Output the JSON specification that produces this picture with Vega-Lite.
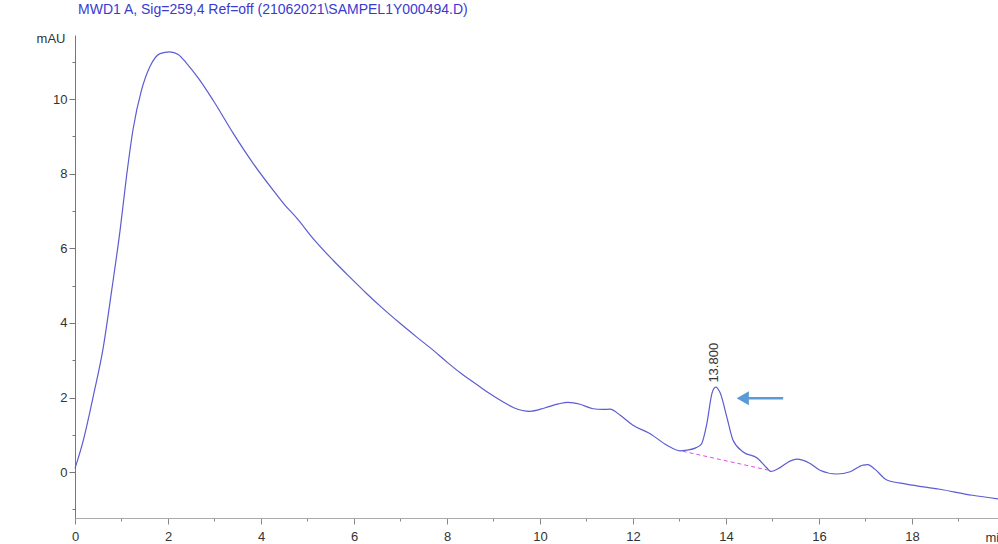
{
  "$schema": "https://vega.github.io/schema/vega-lite/v6.json",
  "width": 923,
  "height": 483,
  "autosize": {"type": "none"},
  "padding": {"left": 75, "top": 35, "right": 0, "bottom": 26},
  "background": "white",
  "title": {"text": "MWD1 A, Sig=259,4 Ref=off (21062021\\SAMPEL1Y000494.D)", "anchor": "start", "frame": "group", "fontSize": 14, "fontWeight": "normal", "color": "#3a3ad0", "font": "Liberation Sans", "dx": 3, "offset": 4, "baseline": "alphabetic"},
  "config": {"view": {"stroke": null}, "font": "Liberation Sans"},
  "datasets": {
    "trace": [
      {"t": 0.0, "mAU": 0.1}, {"t": 0.18, "mAU": 0.86}, {"t": 0.39, "mAU": 2.02}, {"t": 0.61, "mAU": 3.36},
      {"t": 0.79, "mAU": 4.88}, {"t": 0.97, "mAU": 6.49}, {"t": 1.11, "mAU": 7.95}, {"t": 1.25, "mAU": 9.2},
      {"t": 1.43, "mAU": 10.24}, {"t": 1.61, "mAU": 10.87}, {"t": 1.83, "mAU": 11.22}, {"t": 2.04, "mAU": 11.27},
      {"t": 2.22, "mAU": 11.2}, {"t": 2.4, "mAU": 10.96}, {"t": 2.66, "mAU": 10.55}, {"t": 2.97, "mAU": 9.97},
      {"t": 3.4, "mAU": 9.09}, {"t": 3.83, "mAU": 8.28}, {"t": 4.26, "mAU": 7.56}, {"t": 4.5, "mAU": 7.18},
      {"t": 4.77, "mAU": 6.81}, {"t": 5.15, "mAU": 6.22}, {"t": 5.55, "mAU": 5.68}, {"t": 5.9, "mAU": 5.24},
      {"t": 6.27, "mAU": 4.79}, {"t": 6.6, "mAU": 4.41}, {"t": 6.99, "mAU": 3.99}, {"t": 7.35, "mAU": 3.62},
      {"t": 7.7, "mAU": 3.27}, {"t": 8.0, "mAU": 2.95}, {"t": 8.3, "mAU": 2.65}, {"t": 8.64, "mAU": 2.35},
      {"t": 8.9, "mAU": 2.12}, {"t": 9.21, "mAU": 1.88}, {"t": 9.45, "mAU": 1.72}, {"t": 9.78, "mAU": 1.63},
      {"t": 10.1, "mAU": 1.72}, {"t": 10.4, "mAU": 1.83}, {"t": 10.6, "mAU": 1.87}, {"t": 10.86, "mAU": 1.82},
      {"t": 11.14, "mAU": 1.7}, {"t": 11.35, "mAU": 1.68}, {"t": 11.51, "mAU": 1.69}, {"t": 11.72, "mAU": 1.53},
      {"t": 12.0, "mAU": 1.26}, {"t": 12.37, "mAU": 1.03}, {"t": 12.73, "mAU": 0.72}, {"t": 13.01, "mAU": 0.57},
      {"t": 13.16, "mAU": 0.59}, {"t": 13.35, "mAU": 0.65}, {"t": 13.47, "mAU": 0.75}, {"t": 13.59, "mAU": 1.31},
      {"t": 13.7, "mAU": 2.12}, {"t": 13.78, "mAU": 2.28}, {"t": 13.87, "mAU": 2.14}, {"t": 14.02, "mAU": 1.47},
      {"t": 14.15, "mAU": 0.86}, {"t": 14.37, "mAU": 0.54}, {"t": 14.67, "mAU": 0.38}, {"t": 14.88, "mAU": 0.11},
      {"t": 14.96, "mAU": 0.02}, {"t": 15.16, "mAU": 0.12}, {"t": 15.35, "mAU": 0.28}, {"t": 15.52, "mAU": 0.35},
      {"t": 15.8, "mAU": 0.24}, {"t": 16.02, "mAU": 0.05}, {"t": 16.38, "mAU": -0.05}, {"t": 16.67, "mAU": 0.01},
      {"t": 16.95, "mAU": 0.19}, {"t": 17.05, "mAU": 0.2}, {"t": 17.2, "mAU": 0.08}, {"t": 17.46, "mAU": -0.21},
      {"t": 17.88, "mAU": -0.32}, {"t": 18.6, "mAU": -0.46}, {"t": 19.3, "mAU": -0.62}, {"t": 19.85, "mAU": -0.72}
    ],
    "baseline": [{"t": 13.07, "mAU": 0.56}, {"t": 14.96, "mAU": 0.04}],
    "peak": [{"t": 13.74, "mAU": 2.4, "label": "13.800"}],
    "arrow": [{"t": 14.45, "t2": 15.23, "mAU": 1.98}],
    "arrowhead": [{"t": 14.36, "mAU": 1.98}]
  },
  "layer": [
    {
      "data": {"name": "trace"},
      "mark": {"type": "line", "color": "#5c5cd2", "strokeWidth": 1.2, "interpolate": "monotone"},
      "encoding": {
        "x": {"field": "t", "type": "quantitative",
          "scale": {"domain": [0, 19.85], "nice": false, "zero": false},
          "axis": {
            "values": [0,0.5,1,1.5,2,2.5,3,3.5,4,4.5,5,5.5,6,6.5,7,7.5,8,8.5,9,9.5,10,10.5,11,11.5,12,12.5,13,13.5,14,14.5,15,15.5,16,16.5,17,17.5,18,18.5,19,19.5],
            "labelExpr": "datum.value % 2 === 0 ? format(datum.value, 'd') : ''",
            "labelOverlap": false, "labelFlush": false, "grid": false,
            "title": "min", "titleX": 910, "titleY": 19, "titleAlign": "left", "titleBaseline": "middle",
            "titleFontWeight": "normal", "titleFontSize": 13, "titleColor": "#333",
            "labelFontSize": 13, "labelColor": "#333", "labelPadding": 6,
            "domainColor": "#aaa", "tickColor": "#888",
            "tickSize": {"condition": {"test": "datum.value % 2 === 0", "value": 6}, "value": 3}
          }
        },
        "y": {"field": "mAU", "type": "quantitative",
          "scale": {"domain": [-1.23, 11.72], "nice": false, "zero": false},
          "axis": {
            "values": [-1,-0.5,0,0.5,1,1.5,2,2.5,3,3.5,4,4.5,5,5.5,6,6.5,7,7.5,8,8.5,9,9.5,10,10.5,11,11.5],
            "labelExpr": "(datum.value % 2 === 0 && datum.value >= 0) ? format(datum.value, 'd') : ''",
            "labelOverlap": false, "labelFlush": false, "grid": false,
            "title": "mAU", "titleAngle": 0, "titleX": -10, "titleY": 3, "titleAlign": "right", "titleBaseline": "middle",
            "titleFontWeight": "normal", "titleFontSize": 13, "titleColor": "#333",
            "labelFontSize": 13, "labelColor": "#333", "labelPadding": 2,
            "domainColor": "#777", "tickColor": "#777",
            "tickSize": {"condition": {"test": "datum.value % 2 === 0", "value": 6}, "value": 3}
          }
        }
      }
    },
    {
      "data": {"name": "baseline"},
      "mark": {"type": "line", "color": "#e050e0", "strokeDash": [4, 3], "strokeWidth": 1},
      "encoding": {"x": {"field": "t", "type": "quantitative"}, "y": {"field": "mAU", "type": "quantitative"}}
    },
    {
      "data": {"name": "peak"},
      "mark": {"type": "text", "angle": 270, "align": "left", "baseline": "middle", "fontSize": 13, "color": "#333"},
      "encoding": {"x": {"field": "t", "type": "quantitative"}, "y": {"field": "mAU", "type": "quantitative"}, "text": {"field": "label"}}
    },
    {
      "data": {"name": "arrow"},
      "mark": {"type": "rule", "color": "#5b9bd5", "strokeWidth": 2.5},
      "encoding": {"x": {"field": "t", "type": "quantitative"}, "x2": {"field": "t2"}, "y": {"field": "mAU", "type": "quantitative"}}
    },
    {
      "data": {"name": "arrowhead"},
      "mark": {"type": "point", "shape": "triangle-left", "filled": true, "color": "#5b9bd5", "size": 200, "opacity": 1},
      "encoding": {"x": {"field": "t", "type": "quantitative"}, "y": {"field": "mAU", "type": "quantitative"}}
    }
  ]
}
